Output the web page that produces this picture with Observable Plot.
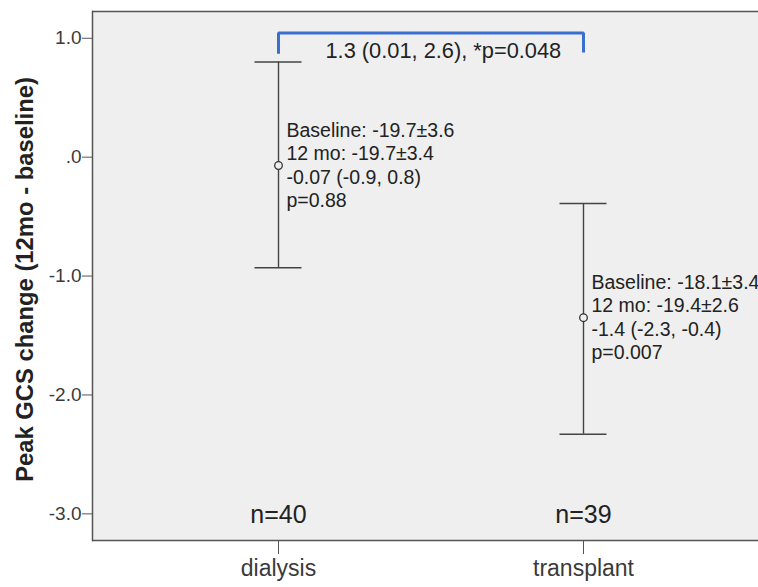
<!DOCTYPE html>
<html>
<head>
<meta charset="utf-8">
<script src="https://cdn.jsdelivr.net/npm/d3@7"></script>
<script src="https://cdn.jsdelivr.net/npm/@observablehq/plot@0.6"></script>
<style>
  html, body { margin: 0; padding: 0; background: #ffffff; }
  #chart svg { display: block; font-family: "Liberation Sans", Arial, Helvetica, sans-serif; }
</style>
</head>
<body>
<div id="chart"></div>
<script>
// ---- data ----
const groups = ["dialysis", "transplant"];
const means = [-0.07, -1.35];
const lowerCI = [-0.93, -2.33];
const upperCI = [0.80, -0.39];
const nLabels = ["n=40", "n=39"];
const annotations = [
  "Baseline: -19.7±3.6\n12 mo: -19.7±3.4\n-0.07 (-0.9, 0.8)\np=0.88",
  "Baseline: -18.1±3.4\n12 mo: -19.4±2.6\n-1.4 (-2.3, -0.4)\np=0.007"
];
const yTicks = [1, 0, -1, -2, -3];
const yDomain = [-3.224, 1.225];
const bracketX = ["dialysis", "dialysis", "transplant", "transplant"];
const bracketY = [0.87, 1.045, 1.045, 0.88];
const diffLabel = "1.3 (0.01, 2.6), *p=0.048";
const yLabel = "Peak GCS change (12mo - baseline)";

const rows = groups.map((g, i) => ({group: g, mean: means[i], lo: lowerCI[i], hi: upperCI[i], n: nLabels[i], note: annotations[i]}));
const bracket = bracketX.map((x, i) => ({x, y: bracketY[i]}));

const ink = "#3a3a3a";
const bg = "#efefef";

const chart = Plot.plot({
  width: 758,
  height: 587,
  marginLeft: 92,
  marginRight: 0,
  marginTop: 11,
  marginBottom: 47,
  style: {fontFamily: "'Liberation Sans', Arial, sans-serif", background: "#ffffff", color: ink},
  x: {type: "point", domain: groups, range: [278, 583], padding: 0},
  y: {domain: yDomain},
  marks: [
    Plot.frame({fill: bg, stroke: null}),
    Plot.ruleY([yDomain[1]], {stroke: "#555", strokeWidth: 1.5}),
    Plot.ruleY([yDomain[0]], {stroke: "#555", strokeWidth: 1.5}),
    Plot.frame({anchor: "left", stroke: "#555", strokeWidth: 1.5}),
    Plot.axisY({ticks: yTicks, tickFormat: d => d === 0 ? ".0" : d.toFixed(1), tickSize: 10, tickPadding: 1, fontSize: 19, label: null, stroke: "#555", color: ink}),
    Plot.axisX({tickSize: 14, tickPadding: 5, fontSize: 23, label: null, stroke: "#555", color: ink}),
    Plot.text([yLabel], {frameAnchor: "left", textAnchor: "middle", rotate: -90, dx: -67, dy: 3.5, fontWeight: "bold", fontSize: 23.8, fill: "#222"}),
    // error bars
    Plot.ruleX(rows, {x: "group", y1: "lo", y2: "hi", stroke: "#444", strokeWidth: 1.4}),
    Plot.ruleY(rows, {x1: "group", x2: "group", y: "hi", insetLeft: -23.5, insetRight: -23.5, stroke: "#444", strokeWidth: 1.4}),
    Plot.ruleY(rows, {x1: "group", x2: "group", y: "lo", insetLeft: -23.5, insetRight: -23.5, stroke: "#444", strokeWidth: 1.4}),
    Plot.dot(rows, {x: "group", y: "mean", r: 3.8, stroke: "#333", strokeWidth: 1.3, fill: bg}),
    Plot.text(rows, {x: "group", y: "mean", text: "note", textAnchor: "start", dx: 8, dy: -1, lineHeight: 1.2, fontSize: 19.5, fill: "#222"}),
    Plot.text(rows, {x: "group", text: "n", frameAnchor: "bottom", dy: -18, fontSize: 25, fill: "#222"}),
    // comparison bracket
    Plot.line(bracket, {x: "x", y: "y", stroke: "#3a6ecf", strokeWidth: 3, strokeLinejoin: "miter", strokeLinecap: "butt"}),
    Plot.text([diffLabel], {x: () => groups[0], y: () => bracketY[1], textAnchor: "start", dx: 47, dy: 18, fontSize: 21.8, fill: "#222"})
  ]
});
document.getElementById("chart").appendChild(chart);
</script>
</body>
</html>
